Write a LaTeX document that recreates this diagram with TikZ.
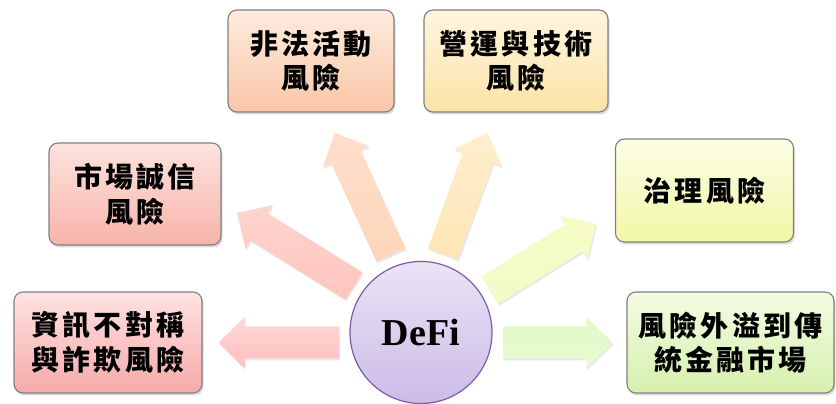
\documentclass[tikz,border=0pt]{standalone}
\usepackage{fontspec}
\newfontfamily\cjk{Noto Sans CJK TC}[LetterSpace=11]
\newfontfamily\timesf{Liberation Serif}
\usetikzlibrary{calc,shadows,backgrounds}
\definecolor{boxborder}{HTML}{808080}
\definecolor{defiborder}{HTML}{7B5EA7}
\tikzset{
  riskbox/.style={draw=boxborder, line width=1.1pt, rounded corners=9pt,
    inner sep=0pt, align=center,
    font=\fontsize{28}{34.5}\selectfont\cjk\bfseries,
    drop shadow={opacity=0.28, shadow xshift=1.5pt, shadow yshift=-2.5pt}},
  hubnode/.style={circle, draw=defiborder, line width=1.2pt, inner sep=0pt,
    minimum size=142pt, top color=defitop, bottom color=defibot,
    font=\fontsize{38}{40}\selectfont\timesf\bfseries},
  arrowshadow/.style={drop shadow={opacity=0.18, shadow xshift=1pt, shadow yshift=-2pt}}
}
\definecolor{defitop}{HTML}{EBE3F6}
\definecolor{defibot}{HTML}{CBBCE6}
\newcommand\riskarrow[4]{%
  \coordinate (#1h) at ($(#2)!26pt!(#1)$);
  \shade[top color=#3, bottom color=#4, arrowshadow]
    ($(#1)!16pt!90:(#2)$) -- ($(#1h)!16pt!-90:(#1)$) -- ($(#1h)!25.5pt!-90:(#1)$)
    -- (#2) -- ($(#1h)!25.5pt!90:(#1)$) -- ($(#1h)!16pt!90:(#1)$)
    -- ($(#1)!16pt!-90:(#2)$) -- cycle;}
\begin{document}
\begin{tikzpicture}[x=1pt,y=1pt]
\useasboundingbox (0,0) rectangle (836,404);

\node[riskbox, minimum width=172pt, minimum height=102pt,
  top color={rgb,255:red,253;green,227;blue,222}, bottom color={rgb,255:red,247;green,179;blue,170}]
  (m1) at (135,210) {市場誠信\\風險};
\node[riskbox, minimum width=188pt, minimum height=101pt,
  top color={rgb,255:red,254;green,226;blue,226}, bottom color={rgb,255:red,247;green,169;blue,169}]
  (m2) at (108,61.5) {資訊不對稱\\與詐欺風險};
\node[riskbox, minimum width=166pt, minimum height=102pt,
  top color={rgb,255:red,254;green,235;blue,223}, bottom color={rgb,255:red,249;green,198;blue,166}]
  (m3) at (311,343) {非法活動\\風險};
\node[riskbox, minimum width=184pt, minimum height=102pt,
  top color={rgb,255:red,254;green,246;blue,224}, bottom color={rgb,255:red,252;green,227;blue,166}]
  (m4) at (516,343) {營運與技術\\風險};
\node[riskbox, minimum width=178pt, minimum height=103pt,
  top color={rgb,255:red,253;green,253;blue,230}, bottom color={rgb,255:red,240;green,247;blue,165}]
  (m5) at (704.5,213.5) {治理風險};
\node[riskbox, minimum width=207pt, minimum height=101pt,
  top color={rgb,255:red,243;green,252;blue,227}, bottom color={rgb,255:red,214;green,240;blue,174}]
  (m6) at (730.5,61.5) {風險外溢到傳\\統金融市場};

\node[hubnode] (defi) at (421,71.5) {DeFi};

\coordinate (t1) at ($(defi.center)+(-82,-10)$);
\coordinate (p1) at ($(m2.east)+(16,0)$);
\coordinate (t2) at ($(defi.center)+(-67,46.5)$);
\coordinate (p2) at (237,191);
\coordinate (t3) at ($(defi.center)+(-30,77.5)$);
\coordinate (p3) at (335,271);
\coordinate (t4) at ($(defi.center)+(22,78.5)$);
\coordinate (p4) at (487,271);
\coordinate (t5) at ($(defi.center)+(69,42.5)$);
\coordinate (p5) at (596,180);
\coordinate (t6) at ($(defi.center)+(82,-10)$);
\coordinate (p6) at ($(m6.west)+(-14,0)$);

\begin{scope}[on background layer]
\fill[white] (0,0) rectangle (836,404);
\riskarrow{t1}{p1}{{rgb,255:red,255;green,217;blue,217}}{{rgb,255:red,255;green,188;blue,188}}
\riskarrow{t2}{p2}{{rgb,255:red,255;green,212;blue,206}}{{rgb,255:red,255;green,196;blue,190}}
\riskarrow{t3}{p3}{{rgb,255:red,255;green,222;blue,204}}{{rgb,255:red,253;green,214;blue,186}}
\riskarrow{t4}{p4}{{rgb,255:red,255;green,238;blue,206}}{{rgb,255:red,253;green,230;blue,180}}
\riskarrow{t5}{p5}{{rgb,255:red,246;green,252;blue,196}}{{rgb,255:red,244;green,250;blue,200}}
\riskarrow{t6}{p6}{{rgb,255:red,226;green,249;blue,198}}{{rgb,255:red,232;green,251;blue,210}}
\end{scope}
\end{tikzpicture}
\end{document}
